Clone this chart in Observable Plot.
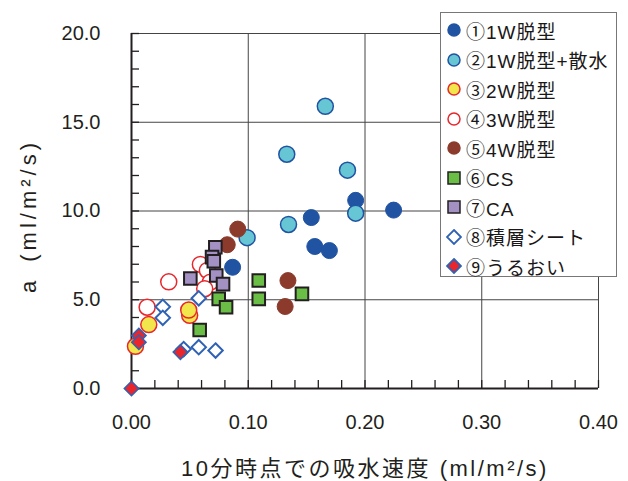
<!DOCTYPE html>
<html>
<head>
<meta charset="utf-8">
<script src="https://cdn.jsdelivr.net/npm/d3@7"></script>
<script src="https://cdn.jsdelivr.net/npm/@observablehq/plot@0.6"></script>
<style>
  body { margin: 0; background: #fff; }
  #wrap { position: relative; width: 628px; height: 481px; }
  #legend { position: absolute; left: 440px; top: 12px; width: 177px; height: 265px;
    border: 1px solid #777; background: #fff; box-sizing: border-box;
    font-family: "Liberation Sans", "Noto Sans CJK JP", sans-serif; font-size: 19px;
    letter-spacing: 1px; color: #1a1718; }
  .row { position: absolute; left: 0; height: 30px; display: flex; align-items: center; white-space: nowrap; }
  .row svg { margin-left: 5px; margin-right: 4px; }
</style>
</head>
<body>
<div id="wrap"><div id="legend"></div></div>
<script>
// ---- data ----
const seriesNames = ["①1W脱型", "②1W脱型+散水", "③2W脱型", "④3W脱型", "⑤4W脱型", "⑥CS", "⑦CA", "⑧積層シート", "⑨うるおい"];

const x1 = [0.0866, 0.154, 0.157, 0.1695, 0.192, 0.2245];
const y1 = [6.83, 9.63, 8.0, 7.77, 10.6, 10.05];

const x2 = [0.099, 0.1345, 0.133, 0.166, 0.185, 0.192];
const y2 = [8.5, 9.24, 13.2, 15.9, 12.3, 9.88];

const x3 = [0.0034, 0.0148, 0.0498, 0.049];
const y3 = [2.38, 3.6, 4.12, 4.42];

const x4 = [0.0134, 0.0319, 0.059, 0.065, 0.0675, 0.0627];
const y4 = [4.58, 6.01, 6.99, 6.65, 5.99, 5.62];

const x5 = [0.082, 0.091, 0.134, 0.1316];
const y5 = [8.1, 8.98, 6.08, 4.62];

const x6 = [0.0584, 0.0747, 0.081, 0.109, 0.109, 0.146];
const y6 = [3.3, 5.05, 4.58, 6.08, 5.05, 5.33];

const x7 = [0.0504, 0.0718, 0.069, 0.0705, 0.0726, 0.0784];
const y7 = [6.2, 7.96, 7.4, 7.17, 6.37, 5.88];

const x8 = [0.0268, 0.0268, 0.0576, 0.0576, 0.072, 0.0447];
const y8 = [4.6, 3.98, 5.08, 2.33, 2.14, 2.22];

const x9 = [0, 0.0063, 0.0063, 0.0419];
const y9 = [0, 2.98, 2.61, 2.05];

const xTicks = [0, 0.1, 0.2, 0.3, 0.4];
const yTicks = [0, 5, 10, 15, 20];
const xMinor = d3.range(0, 0.4001, 0.02);
const yMinor = d3.range(0, 20.001, 1);

const xLabel = "10分時点での吸水速度 (ml/m²/s)";
const yLabel = "a\u2002(ml/m²/s)";

// ---- layout / styles ----
const W = 628, H = 481, mL = 131, mR = 30, mT = 33, mB = 93;
const frameW = W - mL - mR, frameH = H - mT - mB, tickLen = 8;

const styles = [
  {symbol: "circle", fill: "#2153a3", stroke: "#2153a3", r: 8, sw: 1},
  {symbol: "circle", fill: "#66c6d3", stroke: "#2153a3", r: 8, sw: 1.5},
  {symbol: "circle", fill: "#f1e64b", stroke: "#e8262b", r: 8, sw: 1.5},
  {symbol: "circle", fill: "#ffffff", stroke: "#e8262b", r: 8, sw: 1.5},
  {symbol: "circle", fill: "#8b3a2b", stroke: "#8b3a2b", r: 8, sw: 1},
  {symbol: "square", fill: "#6abd45", stroke: "#231f20", r: 7.1, sw: 2},
  {symbol: "square", fill: "#a491c4", stroke: "#231f20", r: 7.1, sw: 2},
  {symbol: "diamond2", fill: "#ffffff", stroke: "#2f62b4", r: 6.5, sw: 2},
  {symbol: "diamond2", fill: "#e8262b", stroke: "#2f62b4", r: 6.5, sw: 1.5}
];

const xs = [x1, x2, x3, x4, x5, x6, x7, x8, x9];
const ys = [y1, y2, y3, y4, y5, y6, y7, y8, y9];
const seriesRows = xs.map((xa, i) => xa.map((x, j) => ({x, y: ys[i][j]})));

const dotMarks = seriesRows.map((rows, i) => Plot.dot(rows, {
  x: "x", y: "y", symbol: styles[i].symbol, r: styles[i].r,
  fill: styles[i].fill, stroke: styles[i].stroke, strokeWidth: styles[i].sw
}));

const chart = Plot.plot({
  width: W, height: H,
  marginLeft: mL, marginRight: mR, marginTop: mT, marginBottom: mB,
  style: {fontFamily: "'Liberation Sans', 'Noto Sans CJK JP', sans-serif", fontSize: "20px", color: "#231f20", background: "#fff"},
  x: {domain: [0, 0.4]},
  y: {domain: [0, 20]},
  marks: [
    Plot.gridY(yTicks.filter(d => d > 0), {stroke: "#444", strokeOpacity: 1, strokeWidth: 1}),
    Plot.gridX(xTicks.filter(d => d > 0), {stroke: "#444", strokeOpacity: 1, strokeWidth: 1}),
    Plot.ruleY(yMinor, {insetRight: frameW - tickLen, stroke: "#231f20", strokeWidth: 1.3}),
    Plot.ruleX(xMinor, {insetTop: frameH - tickLen, stroke: "#231f20", strokeWidth: 1.3}),
    Plot.axisY(yTicks, {tickSize: 0, tickPadding: 31, tickFormat: d => d.toFixed(1), label: null, fill: "#231f20"}),
    Plot.axisX(xTicks, {tickSize: 0, tickPadding: 26, tickFormat: d => d.toFixed(2), label: null, fill: "#231f20"}),
    Plot.ruleX([0], {stroke: "#231f20", strokeWidth: 2}),
    Plot.ruleY([0], {stroke: "#231f20", strokeWidth: 2}),
    Plot.text([xLabel], {frameAnchor: "bottom", textAnchor: "middle", lineAnchor: "middle", dy: 80, fontSize: 22, fill: "#231f20"}),
    Plot.text([yLabel], {frameAnchor: "left", textAnchor: "middle", lineAnchor: "middle", rotate: -90, dx: -103, dy: 5, fontSize: 22, fill: "#231f20"}),
    ...dotMarks
  ]
});

document.getElementById("wrap").prepend(chart);
d3.select(chart).selectAll("text").each(function() {
  const t = this.textContent;
  if (t === xLabel) this.style.letterSpacing = "2.5px";
  if (t === yLabel) this.style.letterSpacing = "4px";
});

// ---- legend ----
const legend = document.getElementById("legend");
seriesNames.forEach((name, i) => {
  const s = styles[i];
  const row = document.createElement("div");
  row.className = "row";
  row.style.top = (2 + i * 29.5) + "px";
  let shape;
  if (s.symbol === "circle") shape = `<circle cx="8" cy="8" r="6" fill="${s.fill}" stroke="${s.stroke}" stroke-width="1.5"/>`;
  else if (s.symbol === "square") shape = `<rect x="2" y="2" width="12" height="12" fill="${s.fill}" stroke="${s.stroke}" stroke-width="1.5"/>`;
  else shape = `<polygon points="8,1 15,8 8,15 1,8" fill="${s.fill}" stroke="${s.stroke}" stroke-width="1.8"/>`;
  row.innerHTML = `<svg width="16" height="16">${shape}</svg><span>${name}</span>`;
  legend.appendChild(row);
});
</script>
</body>
</html>
